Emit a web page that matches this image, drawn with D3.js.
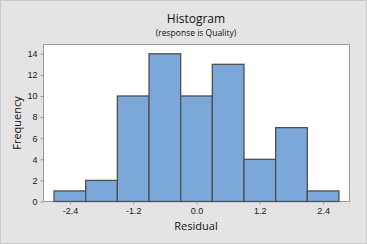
<!DOCTYPE html>
<html><head><meta charset="utf-8">
<script src="https://cdn.jsdelivr.net/npm/d3@7"></script>
<style>
html,body{margin:0;padding:0;background:#e4e4e4;}
svg{display:block;font-family:"Open Sans","Noto Sans",sans-serif;}
</style></head>
<body><svg id="c" width="367" height="244"></svg>
<script>
const binStarts = [-2.7,-2.1,-1.5,-0.9,-0.3,0.3,0.9,1.5,2.1];
const binWidth = 0.6;
const counts = [1,2,10,14,10,13,4,7,1];
const xTicks = [-2.4,-1.2,0.0,1.2,2.4];
const yTicks = [0,2,4,6,8,10,12,14];

const svg = d3.select("#c");
const W=367,H=244;
svg.append("rect").attr("x",0.5).attr("y",0.5).attr("width",W-1).attr("height",H-1)
  .attr("fill","#e4e4e4").attr("stroke","#c9c9c9");

const L=43.5,R=349.5,T=44.5,B=201.5;
const x = d3.scaleLinear().domain([-2.9,2.9]).range([L,R]);
const y = d3.scaleLinear().domain([0,14.88]).range([B,T]);

svg.append("rect").attr("x",L).attr("y",T).attr("width",R-L).attr("height",B-T)
  .attr("fill","#fff").attr("stroke","#9a9a9a").attr("stroke-width",1);

svg.append("g").selectAll("rect").data(counts).join("rect")
  .attr("x",(d,i)=>x(binStarts[i]))
  .attr("width",(d,i)=>x(binStarts[i]+binWidth)-x(binStarts[i]))
  .attr("y",d=>y(d)).attr("height",d=>B-y(d))
  .attr("fill","#7ba7d9").attr("stroke","#4f4f4f").attr("stroke-width",1.3);

const fmt = d => d.toFixed(1);
const xa = svg.append("g").attr("transform",`translate(0,${B})`)
  .call(d3.axisBottom(x).tickValues(xTicks).tickFormat(fmt).tickSize(3).tickPadding(3));
const ya = svg.append("g").attr("transform",`translate(${L},0)`)
  .call(d3.axisLeft(y).tickValues(yTicks).tickFormat(d=>String(d)).tickSize(3).tickPadding(3));
[xa,ya].forEach(a=>{
  a.select(".domain").remove();
  a.selectAll(".tick line").attr("stroke","#9a9a9a");
  a.selectAll("text").attr("fill","#1a1a1a").style("font-size","9px");
});

svg.append("text").attr("x",196).attr("y",23).attr("text-anchor","middle")
  .style("font-size","12px").attr("fill","#111").text("Histogram");
svg.append("text").attr("x",196).attr("y",36).attr("text-anchor","middle")
  .style("font-size","8.5px").attr("fill","#111").text("(response is Quality)");
svg.append("text").attr("x",196).attr("y",230).attr("text-anchor","middle")
  .style("font-size","11px").attr("fill","#111").text("Residual");
svg.append("text").attr("transform","translate(21,123) rotate(-90)").attr("text-anchor","middle")
  .style("font-size","11px").attr("fill","#111").text("Frequency");
</script></body></html>
